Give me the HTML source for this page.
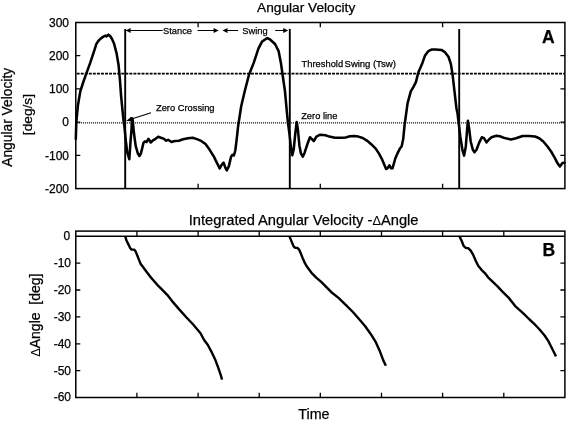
<!DOCTYPE html>
<html><head><meta charset="utf-8"><style>
html,body{margin:0;padding:0;background:#fff;}
svg{display:block;will-change:transform;}
text{font-family:"Liberation Sans",sans-serif;fill:#000;stroke:#000;stroke-width:0.25px;}
</style></head><body>
<svg width="566" height="422" viewBox="0 0 566 422">
<rect width="566" height="422" fill="#fff"/>
<rect x="75.8" y="22.5" width="489.1" height="166.1" fill="none" stroke="#000" stroke-width="1.5"/>
<rect x="75.8" y="231.1" width="489.1" height="166.4" fill="none" stroke="#000" stroke-width="1.5"/>
<path d="M75.8,55.7h4.5M564.9,55.7h-4.5M75.8,88.9h4.5M564.9,88.9h-4.5M75.8,122.2h4.5M564.9,122.2h-4.5M75.8,155.4h4.5M564.9,155.4h-4.5M198.1,22.5v4.8M198.1,188.6v-4.8M320.3,22.5v4.8M320.3,188.6v-4.8M442.6,22.5v4.8M442.6,188.6v-4.8M75.8,263.2h4.5M564.9,263.2h-4.5M75.8,290.0h4.5M564.9,290.0h-4.5M75.8,316.9h4.5M564.9,316.9h-4.5M75.8,343.8h4.5M564.9,343.8h-4.5M75.8,370.6h4.5M564.9,370.6h-4.5M136.9,231.1v5.3M136.9,397.5v-4.8M198.1,231.1v5.3M198.1,397.5v-4.8M259.2,231.1v5.3M259.2,397.5v-4.8M320.3,231.1v5.3M320.3,397.5v-4.8M381.5,231.1v5.3M381.5,397.5v-4.8M442.6,231.1v5.3M442.6,397.5v-4.8M503.8,231.1v5.3M503.8,397.5v-4.8" stroke="#000" stroke-width="1.3" fill="none"/>
<line x1="75.8" y1="236.3" x2="564.9" y2="236.3" stroke="#000" stroke-width="1.5"/>
<line x1="75.8" y1="73.6" x2="564.9" y2="73.6" stroke="#000" stroke-width="1.6" stroke-dasharray="2.95 1.104" stroke-dashoffset="-0.86"/>
<line x1="76.9" y1="122.8" x2="564.9" y2="122.8" stroke="#000" stroke-width="1.3" stroke-dasharray="1 1"/>
<line x1="125.2" y1="29" x2="125.2" y2="188.6" stroke="#000" stroke-width="1.9"/>
<line x1="289.8" y1="29" x2="289.8" y2="188.6" stroke="#000" stroke-width="1.9"/>
<line x1="459.2" y1="29" x2="459.2" y2="188.6" stroke="#000" stroke-width="1.9"/>
<path d="M126,30.5H162.6M197.6,30.5H214M227,30.5H238M275.2,30.5H284" stroke="#000" stroke-width="1.05" fill="none"/>
<path d="M125.8,30.5l4.8,-2.5v5zM218.6,30.5l-5,-2.5v5zM222.5,30.5l5,-2.5v5zM288.2,30.5l-5,-2.5v5z" fill="#000"/>
<path d="M151.0,112.7L130,119.6" stroke="#000" stroke-width="1.1"/>
<path d="M126.2,121L131.2,116.8L132.6,121.2z" fill="#000"/>
<polyline points="75.8,139.0 76.3,122.2 77.9,105.6 80.3,91.4 83.3,82.0 86.3,73.6 90.2,62.9 94.1,51.1 96.3,44.2 98.0,41.4 99.6,39.7 101.6,37.8 103.8,36.4 105.6,35.6 106.7,36.4 108.4,34.7 110.3,36.2 112.0,39.0 114.0,43.5 116.6,53.4 118.6,65.3 119.9,79.5 121.1,96.1 122.5,110.3 123.7,122.2 124.4,126.3 125.8,140.6 127.2,151.9 129.3,159.2 129.9,151.0 130.5,141.6 131.5,129.8 131.9,118.2 132.6,118.8 133.6,129.8 134.6,138.1 135.8,146.4 138.0,153.8 139.4,156.0 140.9,153.5 141.8,149.9 143.5,142.8 145.0,141.4 146.6,142.0 148.4,138.8 149.2,139.8 150.8,142.5 152.9,140.4 155.6,138.8 158.2,136.7 160.9,137.7 163.5,138.6 166.2,140.7 168.1,139.8 171.5,142.0 174.7,141.1 178.9,140.7 183.1,139.3 188.0,138.3 192.7,137.7 196.9,139.1 201.2,140.9 205.5,144.1 209.7,149.8 214.0,156.9 216.8,162.6 219.7,168.3 221.8,164.7 223.6,162.6 225.3,167.6 226.8,170.4 228.9,166.1 231.0,156.9 232.4,154.8 233.9,155.5 235.3,150.5 236.7,139.1 238.1,126.4 238.3,125.0 241.2,106.2 244.6,91.8 249.0,74.8 253.7,62.9 258.4,48.7 262.0,41.6 265.5,39.2 267.4,38.0 270.3,39.7 275.0,44.0 278.6,51.1 280.9,62.9 282.6,74.8 285.0,91.4 287.0,113.5 288.0,123.0 289.5,134.3 291.0,147.6 292.3,155.2 293.7,149.5 295.2,134.3 296.7,122.0 298.0,130.5 299.4,145.7 300.9,153.3 302.8,156.7 304.7,152.4 307.5,143.8 310.0,137.2 311.9,139.1 313.8,141.0 316.4,136.6 320.2,134.7 325.5,135.3 329.3,136.6 335.0,137.8 341.4,137.7 345.6,137.4 349.9,136.3 354.1,136.0 358.4,136.6 362.7,138.0 366.9,140.6 371.2,144.2 375.5,148.4 379.0,153.6 381.8,158.8 384.0,164.0 386.1,169.0 387.5,168.3 389.4,165.4 391.1,168.3 392.5,168.3 395.3,158.5 397.4,153.6 399.6,149.1 401.7,146.3 403.2,139.1 404.6,124.9 407.6,103.2 410.8,91.4 413.6,86.6 416.0,81.9 418.3,72.4 422.0,64.1 424.9,55.8 428.4,51.1 432.0,49.4 435.5,49.4 441.5,49.9 445.0,52.3 448.6,57.0 450.9,64.1 452.6,74.8 454.5,91.4 456.4,107.9 457.5,113.3 458.6,122.4 460.3,136.5 462.4,149.8 464.1,155.6 465.8,146.4 467.1,129.9 467.9,120.7 469.1,128.2 470.7,141.5 472.9,149.8 474.5,152.2 476.5,149.8 479.0,143.1 481.8,137.3 484.0,138.1 486.5,142.3 489.0,139.5 491.5,137.3 496.4,135.7 499.8,136.2 504.7,138.1 511.0,139.5 516.0,138.2 522.6,136.0 529.2,136.0 535.0,136.5 539.2,138.2 543.3,141.5 547.5,146.5 551.6,152.3 554.9,158.1 557.4,163.1 559.9,166.4 562.4,163.1 564.5,162.7" fill="none" stroke="#000" stroke-width="2.55" stroke-linejoin="round" stroke-linecap="round"/>
<polyline points="125.3,236.6 126.6,240.8 128.3,244.1 130.3,248.2 131.6,249.6 134.1,249.6 135.7,251.6 137.4,255.7 139.0,259.9 140.7,264.0 143.2,267.3 146.5,271.8 149.8,276.1 153.1,280.0 158.1,285.7 163.1,290.7 167.2,294.8 172.1,301.1 179.2,309.4 186.3,317.3 193.4,324.8 200.5,333.2 204.1,340.0 207.7,344.7 211.8,352.4 215.4,360.1 218.3,367.8 220.7,374.9 222.1,379.6" fill="none" stroke="#000" stroke-width="2.4" stroke-linejoin="round" stroke-linecap="butt"/>
<polyline points="289.6,236.6 291.6,241.6 293.6,246.3 295.3,247.9 297.4,247.9 299.1,249.6 300.7,253.2 302.4,257.4 304.9,263.2 307.4,267.3 311.5,272.8 316.5,277.8 321.5,282.2 326.4,287.2 331.4,292.2 338.5,297.9 346.5,305.6 352.9,312.0 358.8,318.8 365.2,326.2 370.5,333.7 375.8,342.2 380.1,351.8 383.3,360.4 385.9,365.7" fill="none" stroke="#000" stroke-width="2.4" stroke-linejoin="round" stroke-linecap="butt"/>
<polyline points="459.6,236.6 461.6,240.8 463.6,245.8 465.8,247.9 468.2,248.2 470.7,250.7 473.2,254.9 475.7,260.7 478.2,265.7 481.5,269.8 484.8,273.1 488.1,277.3 492.3,281.4 497.3,286.1 502.2,291.4 508.5,297.6 515.2,306.1 522.8,312.8 528.5,318.5 534.2,323.8 539.8,329.8 544.6,335.5 548.4,341.2 552.2,348.8 556.0,356.4" fill="none" stroke="#000" stroke-width="2.4" stroke-linejoin="round" stroke-linecap="butt"/>
<text x="306.2" y="11.9" font-size="13.7" text-anchor="middle" >Angular Velocity</text>
<text x="303.6" y="224.9" font-size="14.7" text-anchor="middle" >Integrated Angular Velocity -<tspan font-size="12.8" style="stroke-width:0">&#916;</tspan>Angle</text>
<text x="313.9" y="419" font-size="14.3" text-anchor="middle" >Time</text>
<text x="69" y="26.8" font-size="12" text-anchor="end" >300</text>
<text x="69" y="60.019999999999996" font-size="12" text-anchor="end" >200</text>
<text x="69" y="93.24" font-size="12" text-anchor="end" >100</text>
<text x="69" y="126.46" font-size="12" text-anchor="end" >0</text>
<text x="69" y="159.68" font-size="12" text-anchor="end" >-100</text>
<text x="69" y="192.9" font-size="12" text-anchor="end" >-200</text>
<text x="70.2" y="239.5" font-size="12" text-anchor="end" >0</text>
<text x="71" y="267.07" font-size="12" text-anchor="end" >-10</text>
<text x="71" y="293.94" font-size="12" text-anchor="end" >-20</text>
<text x="71" y="320.81" font-size="12" text-anchor="end" >-30</text>
<text x="71" y="347.68" font-size="12" text-anchor="end" >-40</text>
<text x="71" y="374.54999999999995" font-size="12" text-anchor="end" >-50</text>
<text x="71" y="401.41999999999996" font-size="12" text-anchor="end" >-60</text>
<text x="163" y="33.5" font-size="9.9" text-anchor="start" textLength="28.95" lengthAdjust="spacingAndGlyphs">Stance</text>
<text x="242.3" y="33.5" font-size="9.9" text-anchor="start" textLength="25.33" lengthAdjust="spacingAndGlyphs">Swing</text>
<text x="301.6" y="67.2" font-size="9.9" text-anchor="start" textLength="41.5" lengthAdjust="spacingAndGlyphs">Threshold</text>
<text x="344.6" y="67.2" font-size="9.9" text-anchor="start" textLength="25.8" lengthAdjust="spacingAndGlyphs">Swing</text>
<text x="372.9" y="67.2" font-size="9.9" text-anchor="start" textLength="23.2" lengthAdjust="spacingAndGlyphs">(Tsw)</text>
<text x="301.2" y="119.4" font-size="9.9" text-anchor="start" textLength="36.17" lengthAdjust="spacingAndGlyphs">Zero line</text>
<text x="156" y="110.5" font-size="9.9" text-anchor="start" textLength="58.5" lengthAdjust="spacingAndGlyphs">Zero Crossing</text>
<text x="548.4" y="42.8" font-size="17.5" text-anchor="middle" font-weight="bold">A</text>
<text x="548.8" y="255.6" font-size="17.5" text-anchor="middle" font-weight="bold">B</text>
<text transform="translate(12.3,117.3) rotate(-90)" font-size="13.8" text-anchor="middle">Angular Velocity</text>
<text transform="translate(32.4,114.6) rotate(-90)" font-size="13.7" text-anchor="middle">[deg/s]</text>
<text transform="translate(39.8,315.2) rotate(-90)" font-size="14" text-anchor="middle" xml:space="preserve"><tspan font-size="12.8" style="stroke-width:0">&#916;</tspan>Angle  [deg]</text>
</svg>
</body></html>
